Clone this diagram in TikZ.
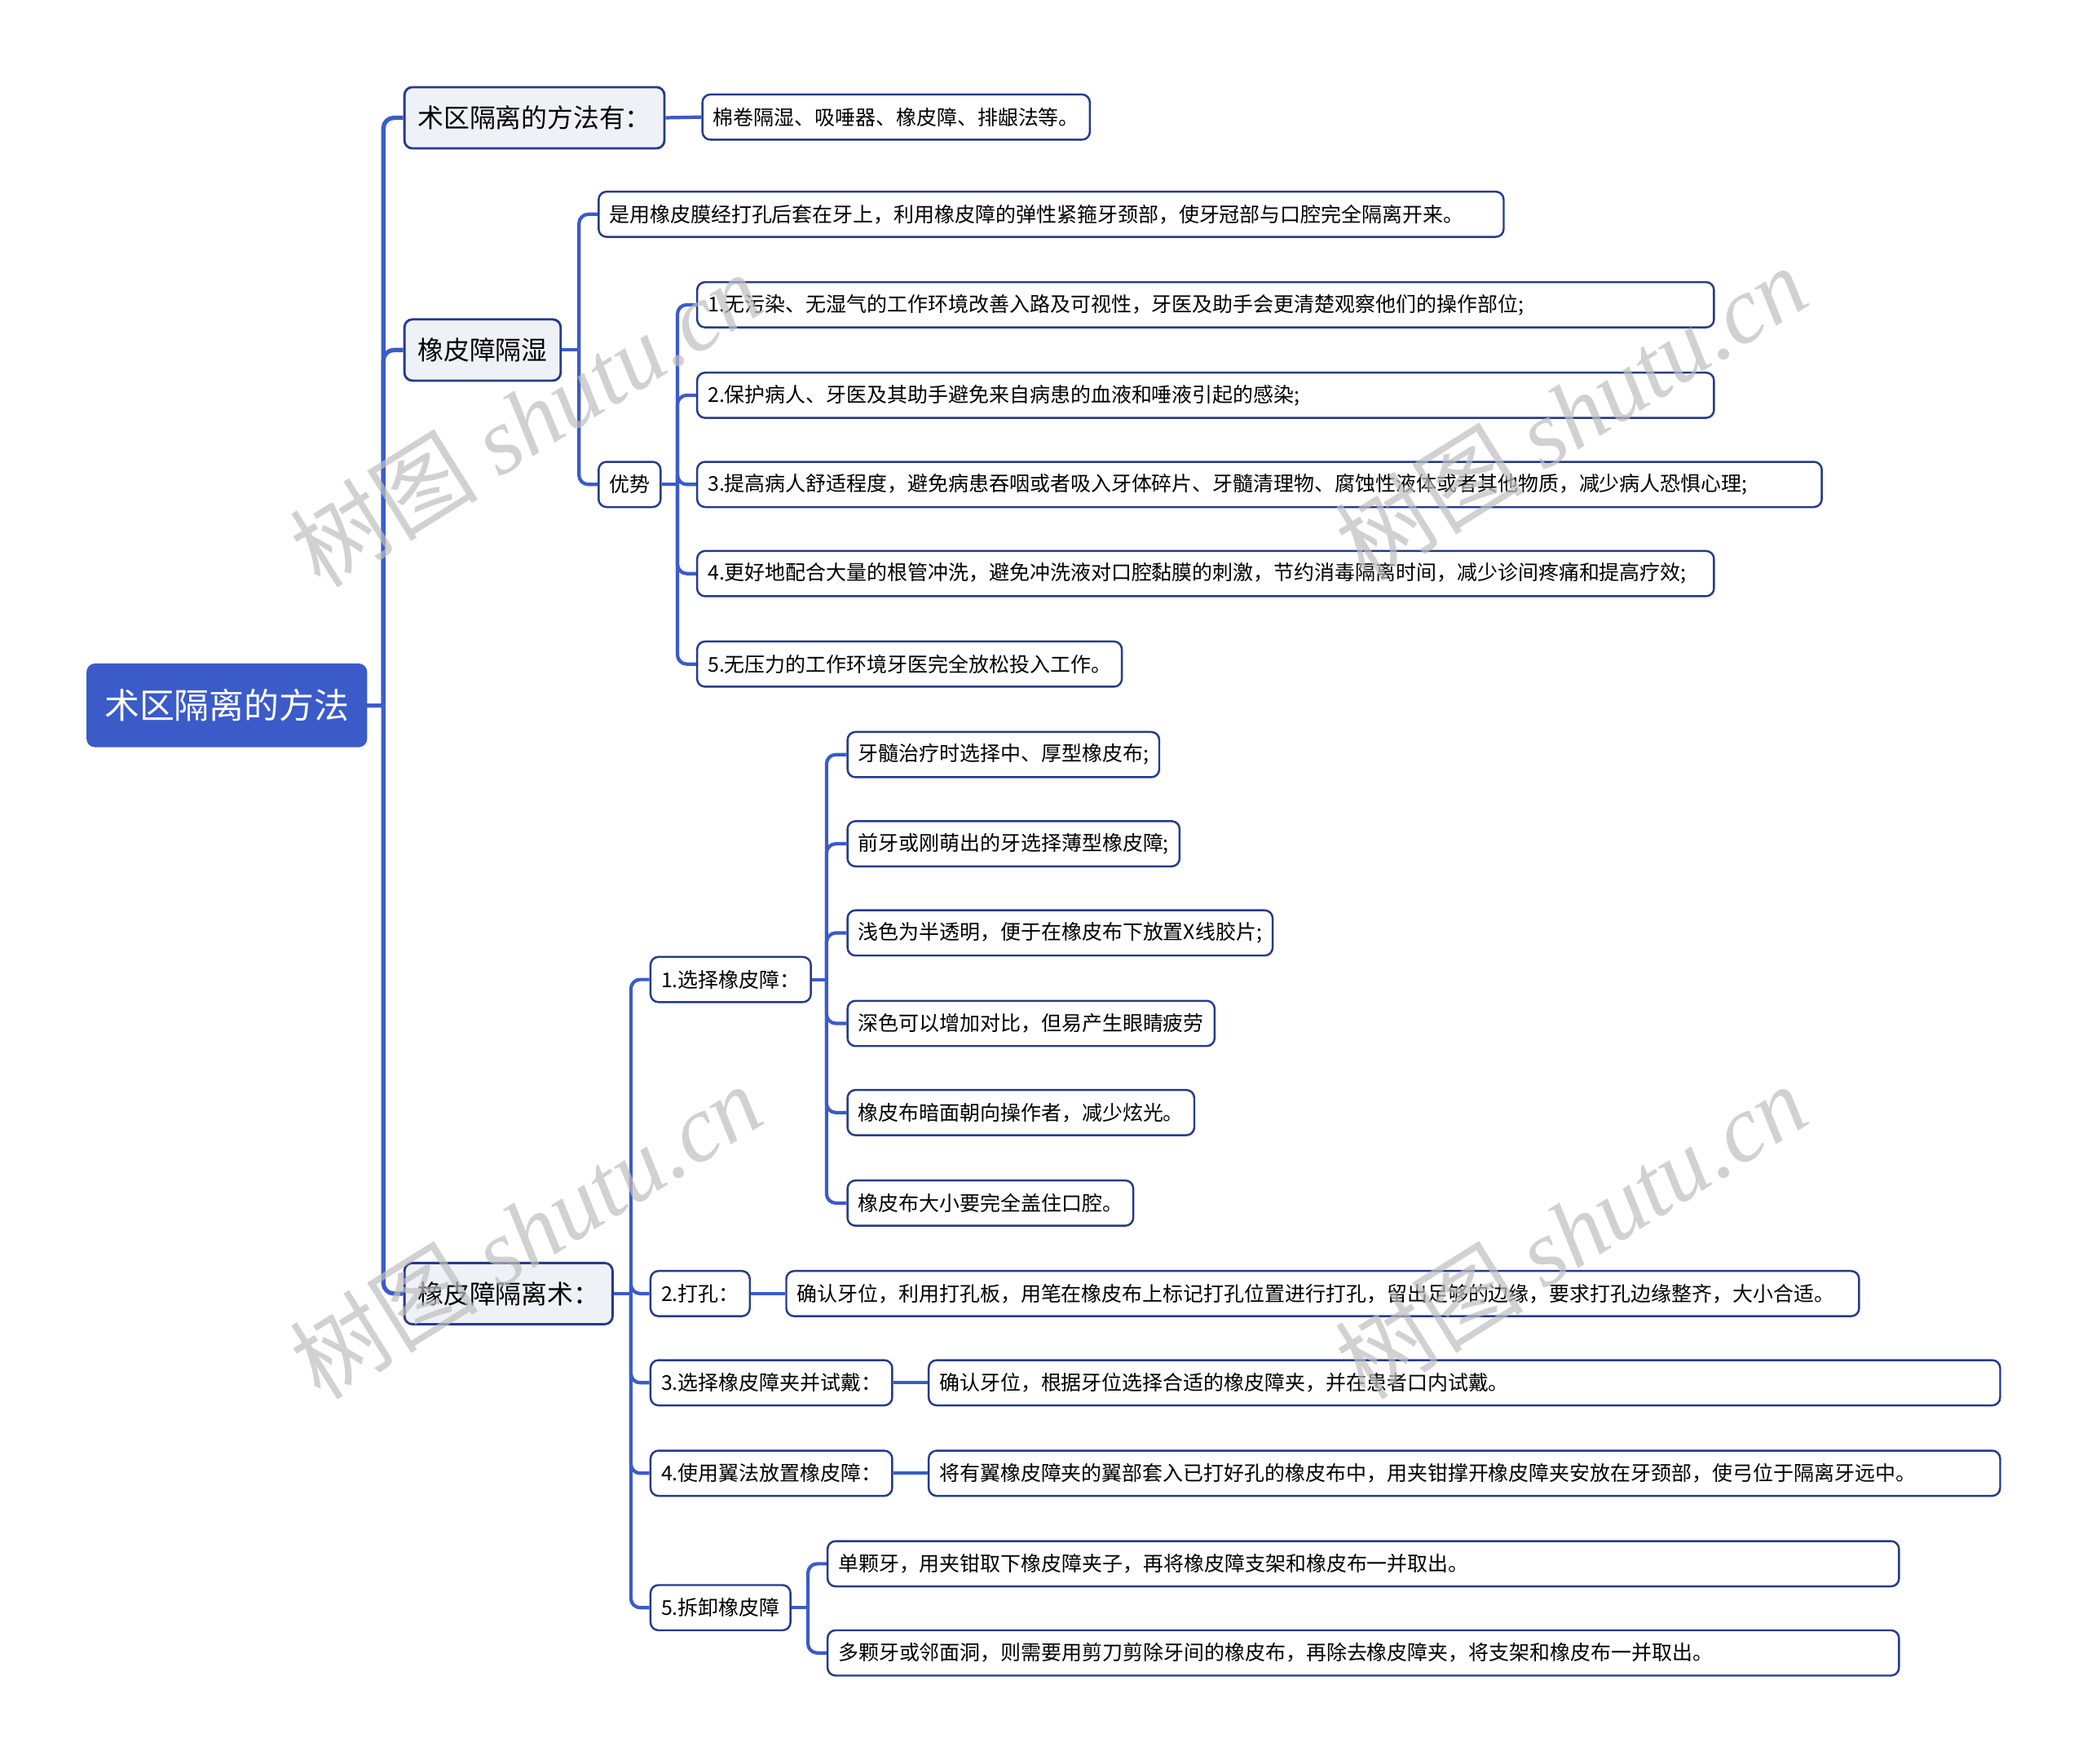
\documentclass[tikz,border=0pt]{standalone}
\usepackage{fontspec}
\setmainfont{Noto Sans CJK SC}
\newfontfamily\wmserif{Liberation Serif}
\usetikzlibrary{calc}
\newlength\uu
\setlength\uu{0.016327cm}
\definecolor{rootblue}{RGB}{59,91,201}
\definecolor{linkblue}{RGB}{59,91,201}
\definecolor{edgeblue}{RGB}{38,58,140}
\definecolor{lvlfill}{RGB}{238,241,246}
\definecolor{wmgray}{RGB}{190,190,190}
\begin{document}
\begin{tikzpicture}[x=0.016327cm, y=-0.016327cm,
  rootbox/.style={fill=rootblue, draw=rootblue, rounded corners=6\uu, text=white,
    font=\fontsize{12.2}{14}\selectfont, minimum width=210\uu, minimum height=62\uu,
    anchor=west, inner sep=0pt},
  lvone/.style={fill=lvlfill, draw=edgeblue, line width=0.8pt, rounded corners=6\uu,
    font=\fontsize{9.05}{11}\selectfont, minimum height=46\uu, inner xsep=10\uu,
    inner ysep=0pt, anchor=west},
  leaf/.style={fill=white, draw=edgeblue, line width=0.7pt, rounded corners=6\uu,
    font=\fontsize{7.1}{9}\selectfont, minimum height=34\uu, inner xsep=8\uu,
    inner ysep=0pt, anchor=west, align=left},
  trunk/.style={draw=linkblue, line width=1.5pt, rounded corners=8\uu},
  link/.style={draw=linkblue, line width=1.2pt, rounded corners=7\uu},
  wm/.style={text=wmgray, opacity=0.7, font=\fontsize{33}{36}\selectfont, rotate=32}
]
\useasboundingbox (0,0) rectangle (1568,1325);

% root
\node[rootbox] (root) at (65,530) {术区隔离的方法};

% level 1
\node[lvone] (a) at (303,88.5) {术区隔离的方法有：};
\node[lvone] (b) at (303,263) {橡皮障隔湿};
\node[lvone] (d) at (303,972) {橡皮障隔离术：};

% branch a
\node[leaf] (a1) at (527,88) {棉卷隔湿、吸唾器、橡皮障、排龈法等。};

% branch b
\node[leaf, text width=664\uu] (b1) at (449,161) {是用橡皮膜经打孔后套在牙上，利用橡皮障的弹性紧箍牙颈部，使牙冠部与口腔完全隔离开来。};
\node[leaf] (b2) at (449,364) {优势};
\node[leaf, text width=748\uu] (c1) at (523,229) {1.无污染、无湿气的工作环境改善入路及可视性，牙医及助手会更清楚观察他们的操作部位;};
\node[leaf, text width=748\uu] (c2) at (523,297) {2.保护病人、牙医及其助手避免来自病患的血液和唾液引起的感染;};
\node[leaf, text width=829\uu] (c3) at (523,364) {3.提高病人舒适程度，避免病患吞咽或者吸入牙体碎片、牙髓清理物、腐蚀性液体或者其他物质，减少病人恐惧心理;};
\node[leaf, text width=748\uu] (c4) at (523,431) {4.更好地配合大量的根管冲洗，避免冲洗液对口腔黏膜的刺激，节约消毒隔离时间，减少诊间疼痛和提高疗效;};
\node[leaf] (c5) at (523,499) {5.无压力的工作环境牙医完全放松投入工作。};

% branch d
\node[leaf] (d1) at (488,736) {1.选择橡皮障：};
\node[leaf] (e1) at (636,567) {牙髓治疗时选择中、厚型橡皮布;};
\node[leaf] (e2) at (636,634) {前牙或刚萌出的牙选择薄型橡皮障;};
\node[leaf] (e3) at (636,701) {浅色为半透明，便于在橡皮布下放置X线胶片;};
\node[leaf] (e4) at (636,769) {深色可以增加对比，但易产生眼睛疲劳};
\node[leaf] (e5) at (636,836) {橡皮布暗面朝向操作者，减少炫光。};
\node[leaf] (e6) at (636,904) {橡皮布大小要完全盖住口腔。};

\node[leaf] (d2) at (488,972) {2.打孔：};
\node[leaf, text width=790\uu] (d2a) at (590,972) {确认牙位，利用打孔板，用笔在橡皮布上标记打孔位置进行打孔，留出足够的边缘，要求打孔边缘整齐，大小合适。};
\node[leaf] (d3) at (488,1039) {3.选择橡皮障夹并试戴：};
\node[leaf, text width=789\uu] (d3a) at (697,1039) {确认牙位，根据牙位选择合适的橡皮障夹，并在患者口内试戴。};
\node[leaf] (d4) at (488,1107) {4.使用翼法放置橡皮障：};
\node[leaf, text width=789\uu] (d4a) at (697,1107) {将有翼橡皮障夹的翼部套入已打好孔的橡皮布中，用夹钳撑开橡皮障夹安放在牙颈部，使弓位于隔离牙远中。};
\node[leaf] (d5) at (488,1208) {5.拆卸橡皮障};
\node[leaf, text width=789\uu] (f1) at (621,1175) {单颗牙，用夹钳取下橡皮障夹子，再将橡皮障支架和橡皮布一并取出。};
\node[leaf, text width=789\uu] (f2) at (621,1242) {多颗牙或邻面洞，则需要用剪刀剪除牙间的橡皮布，再除去橡皮障夹，将支架和橡皮布一并取出。};

% connectors
\coordinate (t0) at (288,530);
\draw[trunk] (root.east) -- (t0);
\foreach \n in {a,b,d} \draw[trunk] (t0) |- (\n.west);

\draw[link] (a.east) -- (a1.west);

\coordinate (tb) at (435,263);
\draw[link] (b.east) -- (tb);
\foreach \n in {b1,b2} \draw[link] (tb) |- (\n.west);

\coordinate (tc) at (509,364);
\draw[link] (b2.east) -- (tc);
\foreach \n in {c1,c2,c3,c4,c5} \draw[link] (tc) |- (\n.west);

\coordinate (td) at (474,972);
\draw[link] (d.east) -- (td);
\foreach \n in {d1,d2,d3,d4,d5} \draw[link] (td) |- (\n.west);

\coordinate (te) at (621,736);
\draw[link] (d1.east) -- (te);
\foreach \n in {e1,e2,e3,e4,e5,e6} \draw[link] (te) |- (\n.west);

\draw[link] (d2.east) -- (d2a.west);
\draw[link] (d3.east) -- (d3a.west);
\draw[link] (d4.east) -- (d4a.west);

\coordinate (tf) at (607,1208);
\draw[link] (d5.east) -- (tf);
\foreach \n in {f1,f2} \draw[link] (tf) |- (\n.west);

% watermarks
\node[wm] (w1) at (395,315) {树图 {\wmserif\itshape shutu.cn}};
\node[wm] (w2) at (1180,310) {树图 {\wmserif\itshape shutu.cn}};
\node[wm] (w3) at (395,925) {树图 {\wmserif\itshape shutu.cn}};
\node[wm] (w4) at (1180,925) {树图 {\wmserif\itshape shutu.cn}};
\end{tikzpicture}
\end{document}
